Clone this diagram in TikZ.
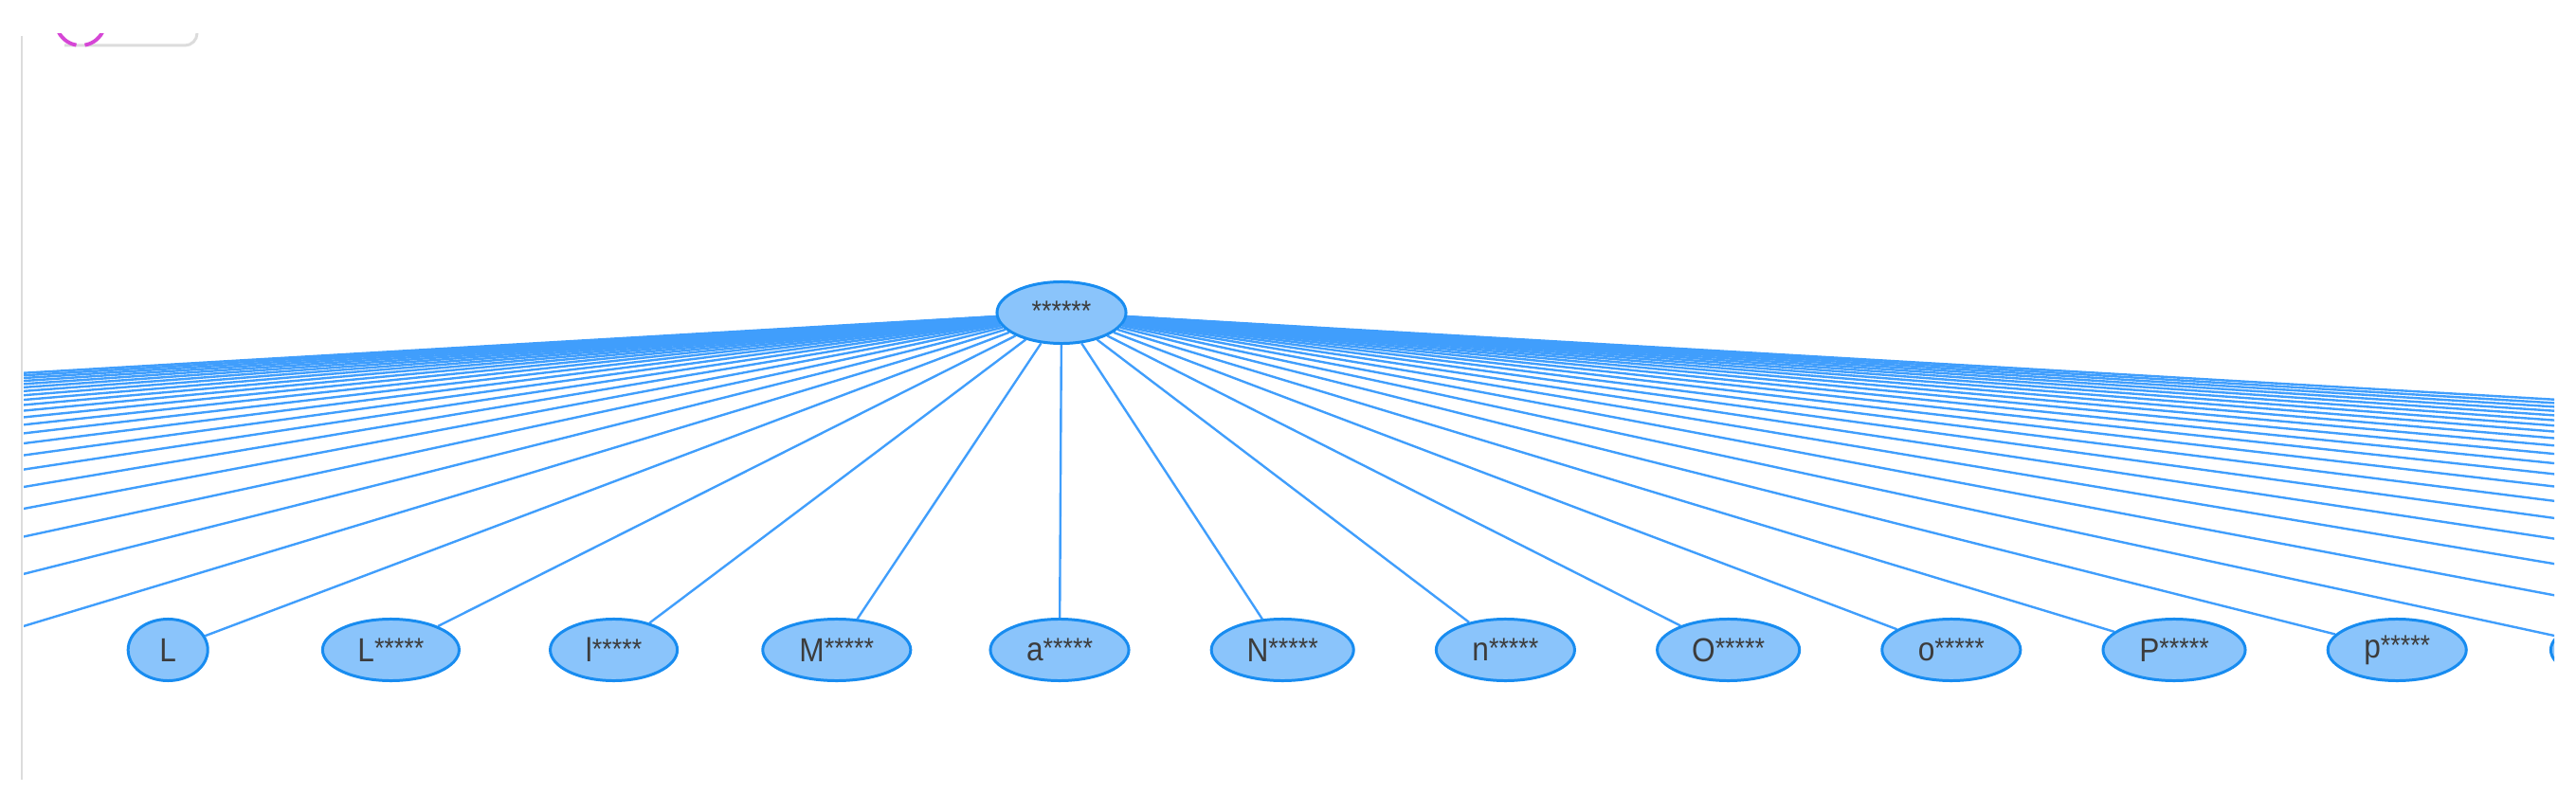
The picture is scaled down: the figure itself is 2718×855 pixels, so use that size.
\documentclass[tikz,border=0pt]{standalone}
\usepackage{fontspec}
\newfontfamily\lab[FakeStretch=0.9]{Liberation Sans}
\usetikzlibrary{shapes.geometric,backgrounds}
\definecolor{edgeblue}{RGB}{64,158,252}
\definecolor{nodefill}{RGB}{138,196,251}
\definecolor{nodeline}{RGB}{24,140,240}
\definecolor{labgray}{RGB}{60,60,60}
\definecolor{framegray}{RGB}{220,220,220}
\definecolor{iconpink}{RGB}{214,70,214}
\newcommand\stars[1]{\raisebox{0.9pt}{\fontsize{8.5}{10}\selectfont #1}}
\begin{document}
\begin{tikzpicture}[x=0.01cm,y=-0.01cm,
  treenode/.style={ellipse,draw=nodeline,fill=nodefill,line width=0.85pt,inner sep=0pt,
    minimum height=0.65cm,text=labgray,font=\lab\fontsize{10}{12}\selectfont},
  link/.style={draw=edgeblue,line width=0.68pt},
  frameline/.style={draw=framegray,line width=0.85pt}]
\useasboundingbox (0,0) rectangle (2718,855);
% frame and cut-off toolbar
\draw[frameline] (23,38) -- (23,823);
\begin{scope}
  \clip (0,36) rectangle (300,60);
  \draw[frameline] (68,48) -- (195,48) arc[start angle=90,end angle=0,radius=13];
  \draw[iconpink,line width=1.1pt] (85,22) ++(160:26) arc[start angle=160,end angle=100,radius=26];
  \draw[iconpink,line width=1.1pt] (85,22) ++(80:26) arc[start angle=80,end angle=20,radius=26];
\end{scope}
% tree
\begin{scope}
  \clip (25,0) rectangle (2695,855);
  \node[treenode,minimum width=1.36cm] (root) at (1120,330) {\stars{******}};
  \node[treenode,minimum width=0.84cm] (k-4) at ({1118-4*235.2},686) {L};
  \node[treenode,minimum width=1.44cm] (k-3) at ({1118-3*235.2},686) {L\stars{*****}};
  \node[treenode,minimum width=1.34cm] (k-2) at ({1118-2*235.2},686) {l\stars{*****}};
  \node[treenode,minimum width=1.56cm] (k-1) at ({1118-1*235.2},686) {M\stars{*****}};
  \node[treenode,minimum width=1.46cm] (k0) at (1118,686) {a\stars{*****}};
  \node[treenode,minimum width=1.50cm] (k1) at ({1118+1*235.2},686) {N\stars{*****}};
  \node[treenode,minimum width=1.46cm] (k2) at ({1118+2*235.2},686) {n\stars{*****}};
  \node[treenode,minimum width=1.50cm] (k3) at ({1118+3*235.2},686) {O\stars{*****}};
  \node[treenode,minimum width=1.46cm] (k4) at ({1118+4*235.2},686) {o\stars{*****}};
  \node[treenode,minimum width=1.50cm] (k5) at ({1118+5*235.2},686) {P\stars{*****}};
  \node[treenode,minimum width=1.46cm] (k6) at ({1118+6*235.2},686) {p\stars{*****}};
  \node[treenode,minimum width=1.46cm] (k7) at ({1118+7*235.2},686) {};
  \foreach \i in {-26,...,-5} \coordinate (k\i) at ({1118+235.2*\i},686);
  \foreach \i in {8,...,26} \coordinate (k\i) at ({1118+235.2*\i},686);
\end{scope}
\begin{scope}[on background layer]
  \fill[white] (0,0) rectangle (2718,855);
  \clip (25,0) rectangle (2695,855);
  \foreach \i in {-26,...,26} \draw[link] (root) -- (k\i);
\end{scope}
\end{tikzpicture}
\end{document}
